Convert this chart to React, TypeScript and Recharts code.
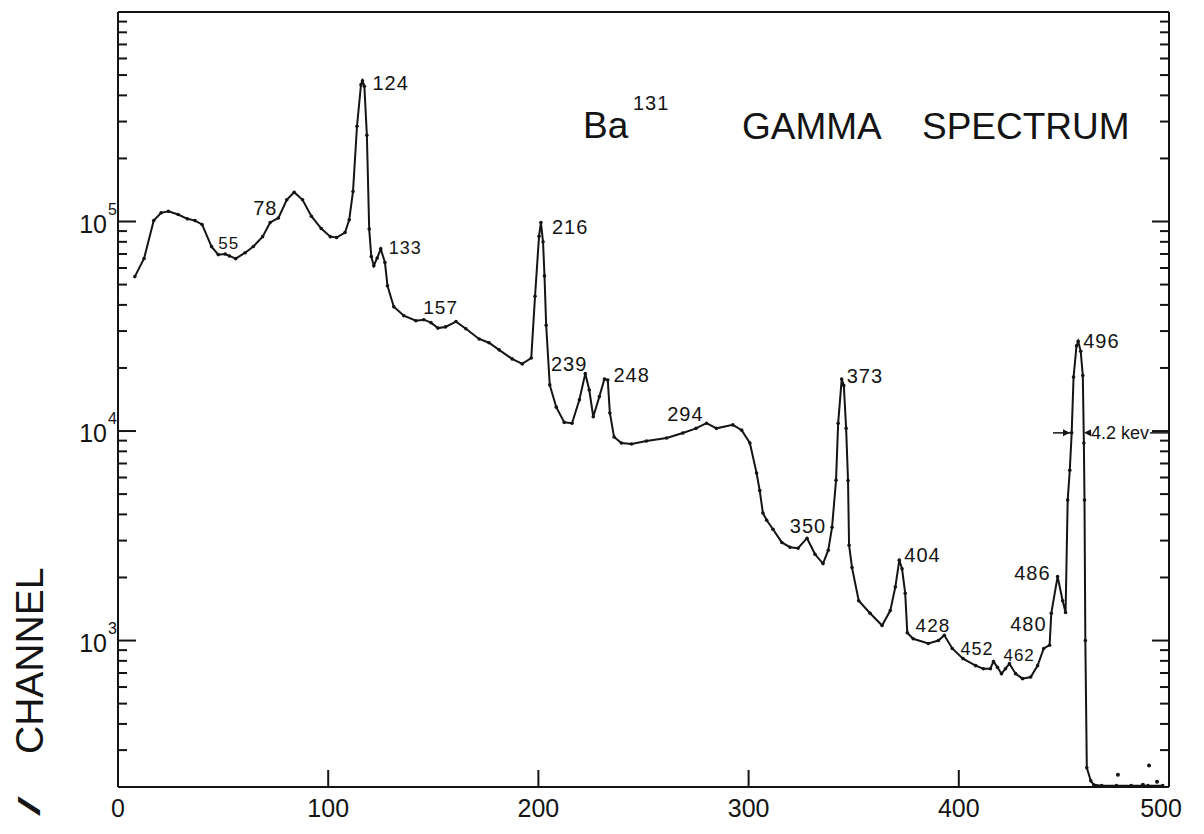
import {
  ComposedChart,
  Line,
  Scatter,
  XAxis,
  YAxis,
  ReferenceLine,
  ReferenceDot,
} from "recharts";

// channel number, counts per channel
const spectrum: [number, number][] = [
  [8.0, 54600], [12.4, 66600], [17.0, 101000], [20.5, 110000], [24.0, 112000],
  [28.6, 108000], [33.0, 103000], [36.6, 101000], [40.0, 96800], [44.5, 75900],
  [47.7, 69500], [51.0, 70000], [53.0, 68500], [56.0, 66500], [60.5, 71000],
  [64.4, 76000], [68.8, 84700], [72.4, 99000], [76.3, 104000], [80.3, 127000],
  [83.8, 138000], [87.8, 127000], [92.0, 106000], [96.7, 92600], [101.0, 84700],
  [104.0, 83900], [108.0, 88600], [110.0, 102000], [111.8, 139000], [113.7, 285000],
  [115.6, 450000], [116.3, 470000], [117.2, 442000], [118.4, 258000], [119.5, 92000],
  [120.5, 68000], [121.7, 61500], [123.3, 67000], [125.0, 74000], [127.0, 63700],
  [128.2, 49400], [131.2, 39200], [136.0, 35500], [141.7, 33600], [145.5, 34000],
  [148.9, 32900], [152.2, 31000], [155.8, 31400], [160.8, 33300], [165.5, 30800],
  [171.8, 27500], [176.5, 26400], [181.3, 24400], [187.5, 22100], [192.3, 20900],
  [196.6, 22300], [198.4, 44000], [200.3, 85000], [201.2, 99000], [202.2, 80000],
  [202.9, 55000], [203.7, 32000], [205.4, 16600], [208.5, 13000], [212.3, 11000],
  [216.0, 10900], [219.5, 14100], [222.3, 18800], [224.2, 15700], [226.1, 11700],
  [229.0, 14600], [231.4, 17700], [233.0, 17500], [234.0, 12200], [236.0, 9360],
  [239.5, 8770], [244.3, 8670], [251.4, 8960], [261.0, 9270], [268.7, 9780],
  [275.0, 10300], [280.0, 10900], [284.7, 10300], [292.5, 10700], [296.7, 10100],
  [300.6, 8770], [303.8, 6300], [305.3, 5200], [306.8, 4060], [308.6, 3750],
  [311.6, 3400], [315.8, 2940], [319.7, 2790], [323.5, 2760], [327.8, 3080],
  [331.6, 2580], [335.4, 2330], [337.9, 2700], [339.7, 3470], [341.6, 5830],
  [342.6, 10900], [344.3, 17700], [345.3, 16500], [346.4, 10300], [347.3, 5800],
  [347.8, 2850], [349.2, 2230], [352.4, 1550], [357.8, 1350], [363.5, 1180],
  [367.4, 1390], [369.8, 1800], [371.7, 2420], [373.0, 2200], [374.5, 1680],
  [375.5, 1090], [378.3, 1020], [385.5, 968], [390.3, 1000], [393.1, 1060],
  [396.9, 917], [402.0, 820], [408.0, 759], [411.7, 734], [415.0, 734],
  [416.5, 795], [418.4, 745], [420.3, 695], [422.2, 734], [424.1, 776],
  [427.0, 695], [430.3, 658], [434.2, 670], [437.5, 759], [440.4, 917],
  [443.2, 950], [444.0, 1350], [447.0, 2020], [449.4, 1550], [450.8, 1360],
  [451.8, 4680], [452.8, 6500], [453.7, 9800], [454.6, 18100], [456.0, 25500],
  [456.8, 26800], [458.0, 24000], [459.0, 18400], [459.5, 8770], [459.8, 4680],
  [460.2, 1000], [460.9, 247], [462.8, 214], [464.2, 205], [468.0, 203],
  [475.0, 203], [482.0, 203], [490.0, 203], [497.0, 203],
];

// loose points below the curve, right of the last peak
const strayPoints: [number, number][] = [
  [475.7, 229], [487.6, 205], [490.5, 253], [494.3, 212],
];

// peak energies (keV) written next to the curve
const peakTexts = ["55", "78", "124", "133", "157", "216", "239", "248", "294",
  "350", "373", "404", "428", "452", "462", "480", "486", "496"];
const peakChannels = [51.0, 76.3, 116.3, 125.0, 160.8, 201.2, 222.3, 231.4, 280.0,
  327.8, 344.3, 371.7, 393.1, 416.5, 424.1, 443.2, 447.0, 456.8];
const peakCounts = [70000, 104000, 470000, 74000, 33300, 99000, 18800, 17700, 10900,
  3080, 17700, 2420, 1060, 795, 776, 950, 2020, 26800];

const xTicks = [0, 100, 200, 300, 400, 500];
const yTicks = [
  300, 400, 500, 600, 700, 800, 900,
  1000, 2000, 3000, 4000, 5000, 6000, 7000, 8000, 9000,
  10000, 20000, 30000, 40000, 50000, 60000, 70000, 80000, 90000,
  100000, 200000, 300000, 400000, 500000, 600000, 700000, 800000, 900000,
];
const decadeTicks = [1000, 10000, 100000];
const decadeExponents = ["3", "4", "5"];

// resolution marker on the 496 peak
const fwhmLevel = 9800;
const fwhmLeftFrom = 444.8;
const fwhmLeftTip = 452.9;
const fwhmRightTip = 459.6;
const fwhmTailFrom = 491;
const fwhmText = "4.2 kev";

// label placement: [dx, dy, anchor, fontSize]
const labelLayout: [number, number, string, number][] = [
  [-7, -10, "start", 17], [-1, -10, "end", 20], [10, 2, "start", 20],
  [8, -1, "start", 18], [2, -14, "end", 19], [11, 5, "start", 20],
  [2, -10, "end", 20], [9, -4, "start", 20], [-3, -9, "end", 20],
  [1, -12, "middle", 20], [5, -3, "start", 20], [5, -5, "start", 20],
  [6, -10, "end", 19], [0, -12, "end", 18], [-6, -8, "start", 17],
  [-3, -21, "end", 20], [-7, -4, "end", 20], [5, 0, "start", 20],
];

const FONT = "'Liberation Sans', Arial, Helvetica, sans-serif";
const INK = "#141414";

const lineData = spectrum.map(([ch, counts]) => ({ ch, counts }));
const strayData = strayPoints.map(([ch, counts]) => ({ ch, counts }));

function LeftTick(props: any) {
  const { x, y, payload } = props;
  const i = decadeTicks.indexOf(payload.value);
  const major = i >= 0;
  return (
    <g>
      <line x1={x} y1={y} x2={x + (major ? 18 : 9)} y2={y} stroke={INK} strokeWidth={2} />
      {major && (
        <>
          <text x={x - 11} y={y + 11} textAnchor="end" fontSize={25} fill={INK} fontFamily={FONT}>
            10
          </text>
          <text x={x - 10} y={y - 7} fontSize={16} fill={INK} fontFamily={FONT}>
            {decadeExponents[i]}
          </text>
        </>
      )}
    </g>
  );
}

function RightTick(props: any) {
  const { x, y, payload } = props;
  const major = decadeTicks.indexOf(payload.value) >= 0;
  return <line x1={x} y1={y} x2={x - (major ? 17 : 9)} y2={y} stroke={INK} strokeWidth={2} />;
}

function BottomTick(props: any) {
  const { x, y, payload } = props;
  const v = payload.value;
  const inner = v !== 0 && v !== 500;
  return (
    <g>
      {inner && <line x1={x} y1={y} x2={x} y2={y - 17} stroke={INK} strokeWidth={2} />}
      <text x={v === 500 ? x - 8 : x} y={y + 30} textAnchor="middle" fontSize={25} fill={INK} fontFamily={FONT}>
        {v}
      </text>
    </g>
  );
}

export default function App() {
  return (
    <div style={{ position: "absolute", left: 0, top: 0, width: 1204, height: 834, background: "#fff" }}>
      <ComposedChart width={1204} height={834} margin={{ top: 12, right: 0, bottom: 0, left: 0 }}>
        <XAxis
          dataKey="ch"
          type="number"
          domain={[0, 500]}
          ticks={xTicks}
          interval={0}
          height={47}
          tickSize={0}
          tickMargin={0}
          tickLine={false}
          tick={<BottomTick />}
          axisLine={{ stroke: INK, strokeWidth: 2 }}
        />
        <YAxis
          dataKey="counts"
          type="number"
          scale="log"
          domain={[200, 1000000]}
          allowDataOverflow
          ticks={yTicks}
          interval={0}
          width={118}
          tickSize={0}
          tickMargin={0}
          tickLine={false}
          tick={<LeftTick />}
          axisLine={{ stroke: INK, strokeWidth: 2 }}
        />
        <YAxis
          yAxisId="right"
          orientation="right"
          type="number"
          scale="log"
          domain={[200, 1000000]}
          allowDataOverflow
          ticks={yTicks}
          interval={0}
          width={35}
          tickSize={0}
          tickMargin={0}
          tickLine={false}
          tick={<RightTick />}
          axisLine={{ stroke: INK, strokeWidth: 2 }}
        />
        <ReferenceLine y={1000000} stroke={INK} strokeWidth={2} />
        <Line
          data={lineData}
          dataKey="counts"
          type="linear"
          stroke={INK}
          strokeWidth={2}
          dot={{ r: 1.8, fill: INK, stroke: "none" }}
          isAnimationActive={false}
        />
        <Scatter
          data={strayData}
          dataKey="counts"
          fill={INK}
          shape={(p: any) => <circle cx={p.cx} cy={p.cy} r={2} fill={INK} />}
          isAnimationActive={false}
        />
        {peakTexts.map((t, i) => {
          const [dx, dy, anchor, fs] = labelLayout[i];
          return (
            <ReferenceDot
              key={t}
              x={peakChannels[i]}
              y={peakCounts[i]}
              r={0}
              shape={(p: any) => (
                <text
                  x={p.cx + dx}
                  y={p.cy + dy}
                  textAnchor={anchor as any}
                  dominantBaseline="central"
                  fontSize={fs}
                  letterSpacing={1}
                  fill={INK}
                  fontFamily={FONT}
                >
                  {t}
                </text>
              )}
            />
          );
        })}
        <ReferenceLine
          segment={[{ x: fwhmLeftFrom, y: fwhmLevel }, { x: fwhmLeftTip, y: fwhmLevel }]}
          stroke={INK}
          strokeWidth={1.5}
        />
        <ReferenceDot
          x={fwhmLeftTip}
          y={fwhmLevel}
          r={0}
          shape={(p: any) => (
            <polygon points={`${p.cx},${p.cy} ${p.cx - 7},${p.cy - 3.5} ${p.cx - 7},${p.cy + 3.5}`} fill={INK} />
          )}
        />
        <ReferenceDot
          x={fwhmRightTip}
          y={fwhmLevel}
          r={0}
          shape={(p: any) => (
            <g>
              <polygon points={`${p.cx},${p.cy} ${p.cx + 7},${p.cy - 3.5} ${p.cx + 7},${p.cy + 3.5}`} fill={INK} />
              <line x1={p.cx + 5} y1={p.cy} x2={p.cx + 7} y2={p.cy} stroke={INK} strokeWidth={1.5} />
              <text x={p.cx + 7} y={p.cy} dominantBaseline="central" fontSize={18} fill={INK} fontFamily={FONT}>
                {fwhmText}
              </text>
            </g>
          )}
        />
        <ReferenceLine
          segment={[{ x: fwhmTailFrom, y: fwhmLevel }, { x: 500, y: fwhmLevel }]}
          stroke={INK}
          strokeWidth={1.5}
        />
      </ComposedChart>
      <svg
        width={1204}
        height={834}
        style={{ position: "absolute", left: 0, top: 0, pointerEvents: "none" }}
        fontFamily={FONT}
        fill={INK}
      >
        <text x={583} y={138} fontSize={37}>Ba</text>
        <text x={633} y={110} fontSize={20} letterSpacing={1}>131</text>
        <text x={742} y={139} fontSize={37}>GAMMA</text>
        <text x={922} y={139} fontSize={37}>SPECTRUM</text>
        <text transform="translate(43,754) rotate(-90)" fontSize={39}>CHANNEL</text>
        <text transform="translate(40,816) rotate(-90) scale(2.1,0.85)" fontSize={34}>/</text>
      </svg>
    </div>
  );
}
